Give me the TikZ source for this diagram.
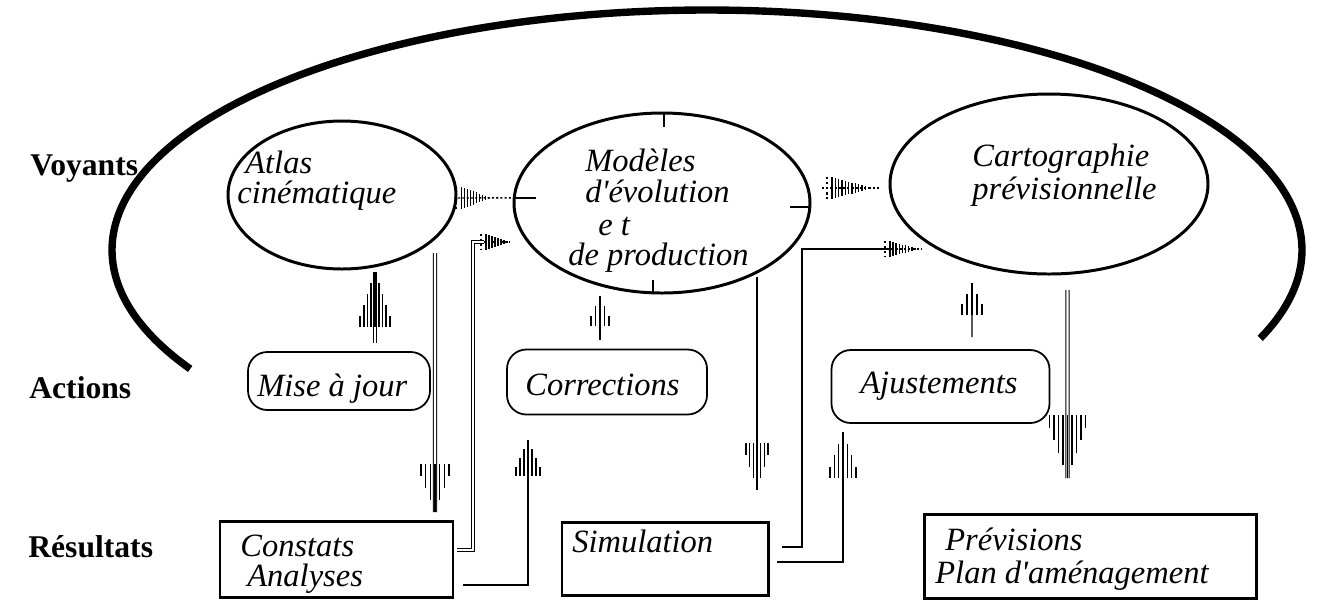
\documentclass[tikz,border=0pt]{standalone}
\usepackage{fontspec}
\setmainfont{Liberation Serif}
\usetikzlibrary{shapes.geometric,calc}
\newcommand\pxl{0.02cm}
% striped arrow head, stripes parallel to a vertical arrow
% #1 tip, #2 dir (+1 points down, -1 points up), #3 length, #4 half width, #5 stripes per side
\newcommand\vhead[5]{%
  \foreach \j in {-#5,...,#5}{%
    \draw[headstripe] ($(#1)+({\j*(#4)/(#5)},{-(#2)*(#3)})$) -- ($(#1)+({\j*(#4)/(#5)},{-(#2)*(#3)*(abs(\j)/(#5+1))})$);
  }}
% striped wedge pointing right, stripes across: #1 tip, #2 length, #3 half height, #4 stripes
\newcommand\hwedge[4]{%
  \draw[line width=1pt, dash pattern=on 1.3pt off 1.6pt] ($(#1)+({-(#2)-5},{-(#3)})$) -- ($(#1)+({-(#2)-5},{(#3)})$);
  \foreach \i in {0,...,#4}{%
    \draw[headstripe] ($(#1)+({-(#2)+\i*(#2)/(#4)},{-(#3)*(1-\i/(#4))})$) -- ($(#1)+({-(#2)+\i*(#2)/(#4)},{(#3)*(1-\i/(#4))})$);
  }}
\tikzset{
  ell/.style={ellipse, draw, line width=1.7pt, inner sep=0pt, outer sep=0pt},
  abox/.style={rectangle, draw, rounded corners=11pt, line width=1pt, inner sep=0pt, outer sep=0pt},
  rbox/.style={rectangle, draw, line width=1.7pt, inner sep=0pt, outer sep=0pt},
  lbl/.style={font=\bfseries\fontsize{18}{20}\selectfont, anchor=base west, inner sep=0pt},
  itx/.style={font=\itshape\fontsize{18.5}{22}\selectfont, anchor=base west, inner sep=0pt},
  conn/.style={line width=0.8pt},
  dbl/.style={double, line width=0.6pt, double distance=1.3pt},
  dotl/.style={line width=0.8pt, dash pattern=on 1.2pt off 1.2pt},
  headstripe/.style={line width=0.9pt},
  bigarc/.style={line width=4.2pt},
  tick/.style={line width=1pt}
}
\begin{document}
\begin{tikzpicture}[x=0.02cm, y=-0.02cm]
\useasboundingbox (0,0) rectangle (1319,600);

% big enclosing arc
\draw[bigarc] plot[domain=150.3:381.6, samples=150, smooth] ({707+595*cos(\x)},{250+240*sin(\x)});

% row labels
\node[lbl] (voy) at (30,175) {Voyants};
\node[lbl] (act) at (29,398) {Actions};
\node[lbl] (res) at (28,557) {Résultats};

% ellipses (Voyants)
\node[ell, minimum width=228*\pxl, minimum height=148*\pxl] (atlas) at (342,195) {};
\node[ell, minimum width=296*\pxl, minimum height=180*\pxl] (mod) at (662,203) {};
\node[ell, minimum width=318*\pxl, minimum height=180*\pxl] (carto) at (1049,184) {};

\node[itx] (tatlas) at (245,173) {Atlas};
\node[itx] (tcin) at (237,203) {cinématique};
\node[itx] (tmod1) at (585,171) {Modèles};
\node[itx] (tmod2) at (585,202) {d\textquotesingle évolution};
\node[itx] (tmod3) at (598,235) {e t};
\node[itx] (tmod4) at (568,265) {de production};
\node[itx] (tcar1) at (972,166) {Cartographie};
\node[itx] (tcar2) at (972,199) {prévisionnelle};

% ticks on the middle ellipse
\draw[tick] ($(mod.north)+(2,0)$) -- ++(0,14);
\draw[tick] (mod.178) -- ++(22,0);
\draw[tick] ($(mod.east)+(0,4)$) -- ++(-20,0);
\draw[tick] ($(mod.south)+(-9,0)$) -- ++(0,-13);

% action boxes
\node[abox, minimum width=182*\pxl, minimum height=58*\pxl] (mise) at (339,381) {};
\node[abox, minimum width=200*\pxl, minimum height=65*\pxl] (corr) at (607,382) {};
\node[abox, minimum width=218*\pxl, minimum height=73*\pxl] (ajus) at (940.5,386.5) {};
\node[itx] (tmise) at (257,396) {Mise à jour};
\node[itx] (tcorr) at (525,395) {Corrections};
\node[itx] (tajus) at (860,393) {Ajustements};

% result boxes
\node[rbox, minimum width=233*\pxl, minimum height=76*\pxl] (cons) at (336.5,559) {};
\node[rbox, minimum width=206*\pxl, minimum height=73*\pxl] (sim) at (665,558.5) {};
\node[rbox, minimum width=332*\pxl, minimum height=84*\pxl] (prev) at (1090,556) {};
\node[itx] (tcons) at (240,556) {Constats};
\node[itx] (tana) at (247,586) {Analyses};
\node[itx] (tsim) at (572,552) {Simulation};
\node[itx] (tprev) at (945,550) {Prévisions};
\node[itx] (tplan) at (935,583) {Plan d\textquotesingle aménagement};

% ---- horizontal striped arrows between the ellipses
\coordinate (w1s) at ($(atlas.east)+(-2,3)$);
\coordinate (w1) at ($(w1s)!0.62!(mod.178)$);
\draw[dotl] (w1s) -- (mod.178);
\hwedge{w1}{30}{11}{10}
\coordinate (w2s) at ($(mod.east)+(12,-15)$);
\coordinate (w2) at ($(w2s)+(50,0)$);
\draw[dotl] (w2s) -- ($(w2s -| carto.west)+(-10,0)$);
\hwedge{w2}{40}{11}{12}

% Constats -> Modeles (double L line)
\draw[dbl] ($(cons.east)+(4,-9)$) -| ($(mod.west)+(-41,39)$) -- ++(11,0);
\coordinate (w3) at ($(mod.west)+(-4,39)$);
\draw[dotl] ($(mod.west)+(-30,39)$) -- (w3);
\hwedge{w3}{24}{8}{8}

% Simulation -> Cartographie (single L line)
\draw[conn] ($(sim.east)+(14,-11.5)$) -| ($(carto.west)+(-88,65)$) -- ++(85,0);
\coordinate (w4) at ($(carto.west)+(28,65)$);
\draw[dotl] ($(carto.west)+(-3,65)$) -- ($(carto.west)+(32,65)$);
\hwedge{w4}{28}{8}{9}

% ---- upward arrows
% Mise a jour -> Atlas
\coordinate (u1) at ($(atlas.south)+(33,3)$);
\draw[dbl] ($(mise.north)+(36,-9)$) -- (u1);
\vhead{u1}{-1}{55}{15}{4}
% Corrections -> Modeles
\coordinate (u2) at ($(mod.south)+(-62,3)$);
\draw[conn] ($(corr.north)+(-7,-10)$) -- (u2);
\vhead{u2}{-1}{30}{9}{2}
% Ajustements -> Cartographie
\coordinate (u3) at ($(carto.south)+(-77,9)$);
\draw[conn] ($(ajus.north)+(31.5,-13)$) -- (u3);
\vhead{u3}{-1}{32}{10}{2}
% Constats -> Corrections
\coordinate (u4) at ($(corr.south)+(-79,25)$);
\draw[conn] ($(cons.east)+(10,26)$) -| (u4);
\vhead{u4}{-1}{36}{12}{3}
% Simulation -> Ajustements
\coordinate (u5) at ($(ajus.south)+(-97.5,9)$);
\draw[conn] ($(sim.east)+(9,3.5)$) -| (u5);
\vhead{u5}{-1}{46}{13}{3}

% ---- downward arrows
% Atlas -> Constats
\coordinate (d1) at ($(cons.north)+(98.5,-9)$);
\draw[dbl] ($(atlas.south)+(93,-16)$) -- (d1);
\vhead{d1}{1}{48}{14}{3}
% Modeles -> Simulation
\coordinate (d2) at ($(sim.north)+(92,-32)$);
\draw[conn] ($(mod.south)+(95,-16)$) -- (d2);
\vhead{d2}{1}{47}{11}{3}
% Cartographie -> Previsions
\coordinate (d3) at ($(prev.north)+(-22.5,-36)$);
\draw[dbl] ($(carto.south)+(18.5,16)$) -- (d3);
\vhead{d3}{1}{63}{18}{4}
\end{tikzpicture}
\end{document}
